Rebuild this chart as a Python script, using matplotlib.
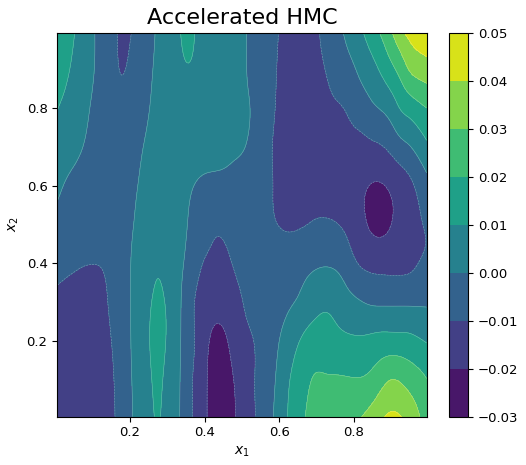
import numpy as np
import matplotlib
matplotlib.use("Agg")
import matplotlib.pyplot as plt
from matplotlib.ticker import FuncFormatter

# Sampled surface values (units of 1e-3) on a regular node grid.
x_nodes = np.round(np.arange(0, 1.0001, 0.025), 3)
y_nodes = np.round(np.arange(0, 1.0001, 0.1), 2)

row_y00 = [-14, -14.3, -14.5, -14.5, -14.2, -13.5, -11.5, -7, -1.5, 3.3, 7.5, 10.5, 6.5, 2, -5, -12, -18.5, -23.5, -25, -21.5,
           -16.5, -12, -7.5, -2, 4, 10.8, 16.5, 21, 24, 25.5, 26.5, 27.5, 28.5, 31, 35, 39.5, 42, 40.8, 37, 30.8, 23.5]
row_y01 = [-13.5, -14, -14.3, -14.3, -14, -13, -11, -6.5, -1, 4, 8.5, 11.5, 7.5, 2.5, -5, -12, -18.5, -23, -24, -20.5,
           -16, -11.5, -7.5, -3, 2.5, 9.2, 14, 18.5, 21, 21, 21, 20.8, 20.5, 20.8, 23, 27, 30, 29, 26, 23, 19.5]
row_y02 = [-13, -13.5, -14, -14, -13.5, -12.3, -10, -6, -0.5, 5, 9.5, 13, 9, 3, -4, -10.5, -17.5, -21.5, -21.5, -17.5,
           -13, -10.7, -7.5, -4, 0, 4.5, 9.2, 13, 14.4, 14, 12.9, 12, 11.4, 11.5, 12.5, 13.5, 13.7, 13.5, 12.8, 11, 9]
row_y03 = [-11.5, -12.5, -13, -13, -12.6, -11.3, -9, -5.5, -0.3, 4, 8, 13, 8.2, 3.2, -4, -10.5, -15, -17, -16.5, -14,
           -10.4, -7, -4.5, -3.5, -2.5, -1, 0.8, 4, 7, 8.3, 7, 4, 1.8, 0, -1.2, -1.4, -1.4, -1.4, -1.4, -1.3, -1.2]
row_y04 = [-7, -8, -9, -9.7, -9.9, -9.6, -8, -5, -0.3, 2.2, 3.6, 7.5, 3.8, 2, -1, -6, -10.8, -12.5, -12, -9.8,
           -7.3, -5.5, -4.5, -4.2, -4, -3.8, -3.2, -2.2, -1.2, -0.8, -1.5, -4, -8.5, -11.5, -12.8, -13.2, -13.2, -12.8, -11.8, -9.8, -8.5]
row_y05 = [-2.5, -4, -5.5, -6.5, -6.8, -6.5, -5.3, -3.5, -0.9, 1.2, 2.5, 3, 2.8, 1.9, 0.3, -2, -5, -8.5, -8.8, -8,
           -7, -6.8, -7.3, -8.5, -10.3, -11.3, -11, -10, -8.8, -8.6, -9.4, -11.5, -15, -18.5, -21.5, -22, -20, -17, -13.5, -10.8, -9]
row_y06 = [2.6, -0.5, -3, -4.8, -6, -6.5, -6, -4.5, -2, 0.4, 2.5, 3.8, 4.2, 3.6, 2, -0.4, -2.5, -3.5, -4.2, -5,
           -5.8, -6.5, -7.5, -9.3, -11.5, -13.5, -14.5, -15, -15.2, -15.5, -16, -16.8, -17.8, -19, -20.5, -20.5, -18.5, -15.5, -12, -7.5, -2.5]
row_y07 = [7.5, 5.2, 2.8, -0.2, -3, -5.5, -6.8, -6.5, -4.5, -1.2, 1.5, 3.8, 5.3, 6.2, 6.5, 6.4, 6, 5.2, 4.5, 2.5,
           0.8, -2, -5.6, -9.3, -11.5, -13, -14, -14.5, -14.8, -14.8, -14.5, -14, -13.5, -12.8, -11.8, -10.5, -7.5, -3.5, -0.5, 4, 9]
row_y08 = [10.5, 8.5, 5.5, 2.2, -1, -4, -6.5, -7.5, -6, -3.5, -0.3, 2.5, 4.8, 6.3, 7, 6.8, 6, 5, 3.8, 2.5,
           1, -0.3, -4.2, -8.3, -11, -12.5, -13.5, -13.5, -13, -12, -11, -9.8, -7, -4.5, -1.5, 0.8, 4.5, 10.5, 14, 17.5, 20.5]
row_y09 = [13.5, 11.5, 8.4, 4.5, 0.6, -3, -6.7, -10.3, -8.6, -5, -1.4, 1.6, 4.5, 7.5, 9.5, 8.8, 6.6, 5.2, 3.8, 2.3,
           0.9, -1.2, -4.6, -8, -10.6, -12, -13, -13, -11.5, -9.8, -6.8, -3.8, -0.8, 3.2, 7, 11.8, 17.4, 23.5, 30.8, 34, 36]
row_y10 = [15, 12.5, 10.3, 5.8, 1.0, -3.4, -7.6, -11, -10.5, -6.9, -2.8, 1.2, 4.8, 8.4, 11.5, 9.9, 8.1, 6.3, 4.5, 2.8,
           1.0, -1.3, -4.3, -7.3, -10.2, -12, -13, -12.5, -10.8, -7.6, -3.3, 0.8, 5.3, 10.2, 16, 22, 29.5, 38.5, 43, 46, 48]

field_rows = [row_y00, row_y01, row_y02, row_y03, row_y04, row_y05,
              row_y06, row_y07, row_y08, row_y09, row_y10]

levels = [-0.03, -0.02, -0.01, 0.00, 0.01, 0.02, 0.03, 0.04, 0.05]
axis_ticks = [0.2, 0.4, 0.6, 0.8]


def natural_spline(t, vals, tq):
    """Evaluate natural cubic splines through columns of vals (nodes t) at tq."""
    n = len(t)
    h = t[1] - t[0]
    A = np.zeros((n, n))
    rhs = np.zeros_like(vals)
    A[0, 0] = A[-1, -1] = 1.0
    for i in range(1, n - 1):
        A[i, i - 1] = h / 6
        A[i, i] = 2 * h / 3
        A[i, i + 1] = h / 6
        rhs[i] = (vals[i + 1] - 2 * vals[i] + vals[i - 1]) / h
    M = np.linalg.solve(A, rhs)
    idx = np.clip(np.searchsorted(t, tq) - 1, 0, n - 2)
    a = (t[idx + 1] - tq)[:, None]
    b = (tq - t[idx])[:, None]
    return ((M[idx] * a ** 3 + M[idx + 1] * b ** 3) / (6 * h)
            + (vals[idx] / h - M[idx] * h / 6) * a
            + (vals[idx + 1] / h - M[idx + 1] * h / 6) * b)


Z = np.array(field_rows, dtype=float) * 1e-3
xq = np.linspace(0.005, 0.995, 300)
yq = np.linspace(0.005, 0.995, 300)
along_x = natural_spline(x_nodes, Z.T, xq)          # (len(xq), len(y_nodes))
F = natural_spline(y_nodes, along_x.T, yq)           # (len(yq), len(xq))
F = np.clip(F, levels[0] + 1e-6, levels[-1] - 1e-6)

fig = plt.figure(figsize=(5.26, 4.65), dpi=100)
ax = fig.add_axes([0.109, 0.104, 0.702, 0.826])
cax = fig.add_axes([0.854, 0.104, 0.036, 0.826])

cs = ax.contourf(xq, yq, F, levels=levels, cmap="viridis")
ax.contour(xq, yq, F, levels=levels[1:-1], colors="white", linewidths=0.4, alpha=0.35)

ax.set_xlim(xq[0], xq[-1])
ax.set_ylim(yq[0], yq[-1])
ax.set_xticks(axis_ticks)
ax.set_yticks(axis_ticks)
ax.tick_params(labelsize=9.5)
ax.set_xlabel("$x_1$", fontsize=10)
ax.set_ylabel("$x_2$", fontsize=10)
ax.set_title("Accelerated HMC", fontsize=16)

cbar = fig.colorbar(cs, cax=cax)
cbar.set_ticks(levels)
cbar.ax.yaxis.set_major_formatter(FuncFormatter(lambda v, p: f"{v:.2f}".replace("-", "\u2212")))
cbar.ax.tick_params(labelsize=9.5)

fig.savefig("out.png", dpi=100)
